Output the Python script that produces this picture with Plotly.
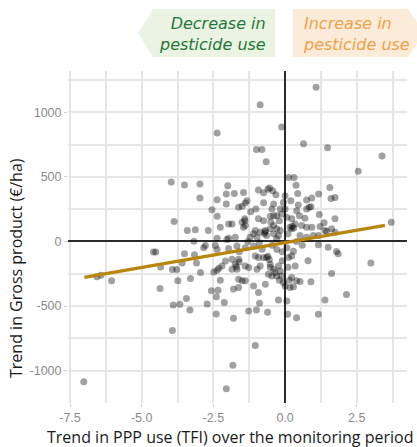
import plotly.graph_objects as go

# ---- data ----
tfi_trend = [
    -2.37, -3.97, -3.51, -2.97, -2.0, -2.97, -2.37, -2.05, -1.77, -2.05, -2.55, -2.37, -3.87,
    1.08, -0.87, -0.12, 0.64, -1.0, -0.81, -0.66, 1.48, 3.38, 2.55, 0.12, 0.31, 0.38, 1.56,
    1.6, 1.74, 1.17, 0.93, 0.75, 0.44, 0.2, 0.9, 1.19, 1.74, 1.36, 3.7, -1.45, -0.93, -0.75,
    -0.54, -0.43, -0.32, 0.0,
    -3.41, -3.13, -2.68, -3.18, -2.84, -3.51, -3.16, -4.59, -4.51, -3.59, -3.09, -4.34, -3.93,
    -3.78, -2.95, -2.49, -2.37, -3.74, -3.3, -2.26, -6.05, -6.42, -6.56, -4.36, -2.57, -2.34,
    -3.44, -3.9, -3.67, -3.32, -2.72, -2.4, -2.12, -2.4, -1.8, -3.93, -1.82, -7.02, -2.05,
    2.99, 1.62, 2.14, 1.39, 0.9, 1.16, 0.4, 0.09, 0.06, -0.23, -0.61, -1.0, -1.27, -0.89,
    -1.04, 1.5, 1.79, 1.85, 1.16, 1.45, 1.74, 1.22,
    -1.33, -1.39, -1.62, -1.5, -0.6, -1.02, -0.93, -0.75, -0.52, -1.41, -1.5, -1.85, -1.97,
    -2.26, -1.45, -1.39, -1.04, -1.1, -0.87, -0.69, -0.64, -0.52, -2.37, -1.97, -2.03, -1.74,
    -1.22, -0.98, -2.78, -2.43,
    -0.4, -0.46, -0.06, -0.17, 0.0, 0.4, 0.46, 0.75, 0.84, -0.4, -0.29, -0.12, 0.06, 0.23,
    0.69, 0.35, 0.58, 0.75, 0.93, 0.17, 0.23, 1.39, 1.62, -0.4, -0.29, -0.17, -0.4, -0.23,
    1.16, 0.98, 0.52, 0.75,
    -2.37, -1.97, -1.68, -1.39, -1.1, -1.04, -0.93, -0.75, -2.31, -2.2, -2.08, -1.85, -1.74,
    -1.62, -1.68, -1.85, -1.39, -1.27, -0.98, -0.87, -0.64, -0.52, -0.58, -0.46, -1.62, -1.5,
    -1.39, -1.1, -1.8, -1.62, -0.93, -0.69,
    -0.29, 0.06, 0.23, 0.12, 0.29, 0.35, -0.52, -0.4, -0.23, -0.17, -0.29, -0.12, 0.23, 0.4,
    0.52, 0.0, 0.17, 0.29, -0.06,
    -1.6, -1.7, -0.6, -0.55, -1.4, -0.7, -0.72, 0.25, 0.3, -0.35, -0.2, 0.15, -0.1, 0.1,
    -0.8, -0.45, -0.3, 0.4, 0.6, -0.9, -1.3, -1.6, -0.5, -0.2, 0.5, -1.2, -0.75, 0.1, -0.1, 0.8,
]
gross_product_trend = [
    840, 461, 438, 444, 431, 336, 323, 367, 372, 290, 246, 195, 155,
    1195, 1059, 887, 756, 713, 713, 618, 725, 661, 544, 495, 495, 436, 418,
    333, 341, 367, 336, 321, 372, 315, 269, 208, 175, 144, 148, 380, 398, 377,
    413, 392, 362, 354,
    85, 90, 85, 2, -48, -95, -102, -82, -82, -167, -167, -198, -218,
    -218, -241, -236, -223, -305, -287, -300, -305, -261, -274, -364, -382, -377,
    -441, -492, -487, -531, -484, -428, -472, -562, -595, -690, -959, -1087, -1141,
    -167, -249, -410, -454, -313, -564, -590, -564, -462, -454, -548, -531, -538, -479,
    -805, -44, -77, -95, -25, 79, 72, 115,
    315, 298, 264, 272, 405, 251, 175, 161, 195, 175, 148, 136, 136,
    110, 110, 123, 85, 59, 72, 85, 46, 98, 25, 25, 15, 33,
    33, 33, -31, -31,
    290, 251, 302, 251, 251, 238, 282, 251, 264, 200, 200, 213, 187, 175,
    179, 136, 123, 110, 110, 110, 98, 85, 98, 123, 98, 85, 59, 46,
    46, 46, 46, 33,
    -62, -54, -36, -48, -36, -113, -125, -125, -208, -190, -152, -138, -177,
    -138, -215, -215, -190, -202, -215, -190, -125, -202, -254, -267, -292, -305,
    -305, -344, -369, -356, -395, -331,
    -62, -48, -113, -125, -75, -190, -177, -215, -190, -228, -267, -267, -279, -305,
    -310, -344, -356, -351, -318,
    -160, -195, -115, -140, 160, 75, 60, 118, 105, -240, -300, -300, -150, -200,
    -60, -30, 20, 0, -30, -10, 0, -80, 150, 160, 200, 230, 300, 60, -80, -150,
]
trend_line_x = [-7.0, 3.48]
trend_line_y = [-278, 124]

x_tick_vals = [-7.5, -5.0, -2.5, 0.0, 2.5]
x_tick_text = ["-7.5", "-5.0", "-2.5", "0.0", "2.5"]
y_tick_vals = [-1000, -500, 0, 500, 1000]
y_tick_text = ["-1000", "-500", "0", "500", "1000"]

x_title = "Trend in PPP use (TFI) over the monitoring period"
y_title = "Trend in Gross product (€/ha)"
label_decrease = "Decrease in<br>pesticide use"
label_increase = "Increase in<br>pesticide use"

# ---- geometry helpers (pixel -> paper) ----
W, H = 417, 447
ML, MR, MT, MB = 68, 10, 71, 44
PW, PH = W - ML - MR, H - MT - MB


def px(xp):
    return (xp - ML) / PW


def py(yp):
    return (H - MB - yp) / PH


fig = go.Figure()
fig.add_trace(go.Scatter(
    x=tfi_trend, y=gross_product_trend, mode="markers",
    marker=dict(size=7, color="rgba(0,0,0,0.37)", line=dict(width=0)),
    hoverinfo="skip", showlegend=False,
))
fig.add_trace(go.Scatter(
    x=trend_line_x, y=trend_line_y, mode="lines",
    line=dict(color="#b8860b", width=3.2), hoverinfo="skip", showlegend=False,
))

grid = "#e6e6e6"
tick_font = dict(family="Liberation Sans", size=12.5, color="#8a8a8a")
fig.update_xaxes(
    range=[-7.57, 4.25], tickvals=x_tick_vals, ticktext=x_tick_text,
    showgrid=True, gridcolor=grid, gridwidth=1.6,
    minor=dict(dtick=1.25, tick0=0, showgrid=True, gridcolor=grid, gridwidth=1.6),
    zeroline=True, zerolinecolor="#2b2b2b", zerolinewidth=1.8,
    ticks="outside", ticklen=3, tickcolor="#cfcfcf",
    tickfont=tick_font, showline=False,
)
fig.update_yaxes(
    range=[-1251, 1320], tickvals=y_tick_vals, ticktext=y_tick_text,
    showgrid=True, gridcolor=grid, gridwidth=1.6,
    minor=dict(dtick=250, tick0=0, showgrid=True, gridcolor=grid, gridwidth=1.6),
    zeroline=True, zerolinecolor="#2b2b2b", zerolinewidth=1.8,
    ticks="outside", ticklen=3, tickcolor="#cfcfcf",
    tickfont=tick_font, showline=False,
)

shapes = [
    dict(type="path", xref="paper", yref="paper",
         path=f"M {px(138)} {py(33)} L {px(153)} {py(9)} L {px(275)} {py(9)} "
              f"L {px(275)} {py(57)} L {px(153)} {py(57)} Z",
         fillcolor="#ebf3e2", line=dict(width=0), layer="below"),
    dict(type="path", xref="paper", yref="paper",
         path=f"M {px(293)} {py(9)} L {px(408)} {py(9)} L {px(424)} {py(33)} "
              f"L {px(408)} {py(57)} L {px(293)} {py(57)} Z",
         fillcolor="#fdebd9", line=dict(width=0), layer="below"),
]

annotations = [
    dict(text=label_decrease, xref="paper", yref="paper", x=px(268), y=py(34),
         xanchor="right", yanchor="middle", align="right", showarrow=False,
         font=dict(family="DejaVu Sans", size=16, color="#1f7a3a", style="italic")),
    dict(text=label_increase, xref="paper", yref="paper", x=px(301), y=py(34),
         xanchor="left", yanchor="middle", align="left", showarrow=False,
         font=dict(family="DejaVu Sans", size=16, color="#eda24a", style="italic")),
    dict(text=x_title, xref="paper", yref="paper", x=px(230), y=py(437),
         xanchor="center", yanchor="middle", showarrow=False,
         font=dict(family="Open Sans", size=16, color="#1a1a1a")),
    dict(text=y_title, xref="paper", yref="paper", x=px(16), y=py(268),
         xanchor="center", yanchor="middle", showarrow=False, textangle=-90,
         font=dict(family="Open Sans", size=16, color="#1a1a1a")),
]

fig.update_layout(
    width=W, height=H,
    margin=dict(l=ML, r=MR, t=MT, b=MB),
    paper_bgcolor="white", plot_bgcolor="white",
    shapes=shapes, annotations=annotations,
    showlegend=False,
)

fig.write_html("out.html")
